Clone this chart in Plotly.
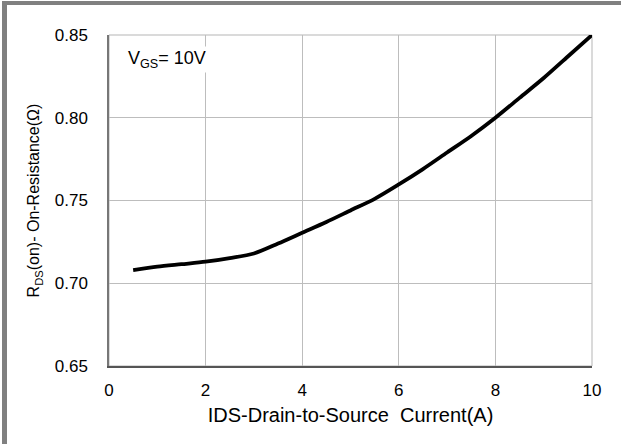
import plotly.graph_objects as go

current_a = [0.5, 1.0, 1.5, 2.0, 2.5, 3.0, 3.5, 4.0, 4.5, 5.0, 5.5, 6.0, 6.5, 7.0, 7.5, 8.0, 8.5, 9.0, 9.5, 10.0]
rds_on = [0.708, 0.710, 0.7115, 0.713, 0.7152, 0.718, 0.724, 0.7305, 0.737, 0.744, 0.751, 0.7597, 0.769, 0.779, 0.789, 0.800, 0.812, 0.824, 0.837, 0.850]
x_ticks = [0, 2, 4, 6, 8, 10]
y_ticks = [0.65, 0.70, 0.75, 0.80, 0.85]
y_tick_text = ["0.65", "0.70", "0.75", "0.80", "0.85"]

W, H = 621, 444
ml, mr, mt, mb = 109, 29, 35, 78
pw, ph = W - ml - mr, H - mt - mb

fig = go.Figure()
fig.add_trace(go.Scatter(
    x=current_a, y=rds_on, mode="lines",
    line=dict(color="black", width=3.8, shape="spline", smoothing=0.8),
    hoverinfo="skip", showlegend=False,
))

fam = "Liberation Sans, Arial, sans-serif"
tick_font = dict(family=fam, size=17, color="black")
xtitle_font = dict(family=fam, size=20, color="black")
ytitle_font = dict(family=fam, size=16, color="black")
ann_font = dict(family=fam, size=18, color="black")

fig.update_layout(
    width=W, height=H,
    margin=dict(l=ml, r=mr, t=mt, b=mb),
    paper_bgcolor="white", plot_bgcolor="white",
    font=tick_font,
    xaxis=dict(
        range=[0, 10], tickvals=x_ticks, ticks="", showgrid=True,
        gridcolor="#bdbdbd", gridwidth=1, zeroline=False,
        showline=True, linecolor="#555555", linewidth=1.5,
        tickfont=tick_font, ticklabelstandoff=8,
        title=dict(text="IDS-Drain-to-Source\u00a0 Current(A)", font=xtitle_font, standoff=9),
    ),
    yaxis=dict(
        range=[0.65, 0.85], tickvals=y_ticks, ticktext=y_tick_text, ticks="",
        showgrid=True, gridcolor="#bdbdbd", gridwidth=1, zeroline=False,
        showline=True, linecolor="#777777", linewidth=1.5,
        tickfont=tick_font, ticklabelstandoff=16,
        title=dict(text="R<sub>DS</sub>(on)- On-Resistance(\u03a9)", font=ytitle_font, standoff=11),
    ),
    shapes=[
        dict(type="rect", xref="paper", yref="paper", x0=0, y0=0, x1=1, y1=1,
             line=dict(color="#b5b5b5", width=1), layer="below"),
        dict(type="rect", xref="paper", yref="paper",
             x0=-(ml - 2) / pw, x1=-(ml - 7) / pw, y0=-mb / ph, y1=1 + (mt - 1) / ph,
             fillcolor="#808080", line=dict(width=0)),
        dict(type="rect", xref="paper", yref="paper",
             x0=-(ml - 2) / pw, x1=(W - ml) / pw, y0=1 + (mt - 5) / ph, y1=1 + (mt - 1) / ph,
             fillcolor="#808080", line=dict(width=0)),
    ],
    annotations=[
        dict(text="V<sub>GS</sub>= 10V", xref="x", yref="y", x=0.35, y=0.8355,
             xanchor="left", yanchor="middle", showarrow=False,
             font=ann_font, bgcolor="white", borderpad=1),
    ],
)

fig.write_html(
    "out.html",
    config={"displayModeBar": False},
    post_script="document.body.style.margin='0';document.body.style.padding='0';document.body.style.overflow='hidden';document.documentElement.style.overflow='hidden';",
)
